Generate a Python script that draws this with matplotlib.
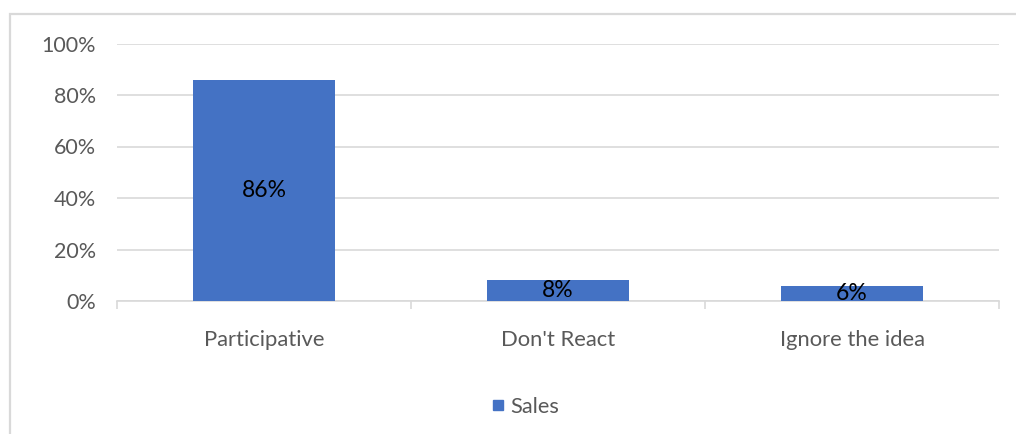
import matplotlib
matplotlib.use("Agg")
import matplotlib.pyplot as plt
from matplotlib.patches import Rectangle
from matplotlib.lines import Line2D

categories = ["Participative", "Don't React", "Ignore the idea"]
sales = [86, 8, 6]
y_ticks = [0, 20, 40, 60, 80, 100]
y_tick_labels = ["0%", "20%", "40%", "60%", "80%", "100%"]
series_name = "Sales"

BAR_COLOR = "#4472C4"
GRID_COLOR = "#D9D9D9"
TEXT_COLOR = "#595959"

plt.rcParams['font.family'] = ['Lato', 'DejaVu Sans']

W, H = 1016, 434
fig = plt.figure(figsize=(W / 100, H / 100), dpi=100)
fig.patch.set_facecolor("white")

# chart frame
fig.patches.append(Rectangle((10 / W, -0.05), 1.1, 1 - 14 / H + 0.05,
                             transform=fig.transFigure, fill=False,
                             edgecolor=GRID_COLOR, linewidth=1.6))

ax = fig.add_axes([117 / W, 1 - 301 / H, (999 - 117) / W, (301 - 43.5) / H])
x = range(len(categories))
ax.bar(x, sales, width=0.483, color=BAR_COLOR, zorder=3)

for xi, v in zip(x, sales):
    ax.text(xi, v / 2, f"{v}%", ha="center", va="center", fontsize=16.5,
            color="black", zorder=4)

ax.set_xlim(-0.5, len(categories) - 0.5)
ax.set_ylim(0, 100)
ax.set_yticks(y_ticks)
ax.set_yticklabels(y_tick_labels)
ax.yaxis.grid(True, color=GRID_COLOR, linewidth=1.2, zorder=0)
ax.tick_params(axis="y", length=0, pad=15, labelsize=15.5, labelcolor=TEXT_COLOR)

ax.set_xticks(list(x))
ax.set_xticklabels(categories)
ax.tick_params(axis="x", which="major", length=0, pad=21, labelsize=15.8,
               labelcolor=TEXT_COLOR)
ax.set_xticks([i - 0.5 for i in range(len(categories) + 1)], minor=True)
ax.tick_params(axis="x", which="minor", length=6, width=1.2, color=GRID_COLOR,
               direction="out")

for s in ("top", "right", "left"):
    ax.spines[s].set_visible(False)
ax.spines["bottom"].set_color(GRID_COLOR)
ax.spines["bottom"].set_linewidth(1.2)
ax.set_axisbelow(True)

handle = Line2D([], [], marker="s", linestyle="none", markersize=6.5,
                color=BAR_COLOR)
fig.legend([handle], [series_name], loc="center", bbox_to_anchor=(524 / W, 1 - 407 / H),
           frameon=False, fontsize=15.7, labelcolor=TEXT_COLOR,
           handletextpad=0.15, handlelength=0.8)

fig.savefig("out.png", dpi=100, facecolor="white")
